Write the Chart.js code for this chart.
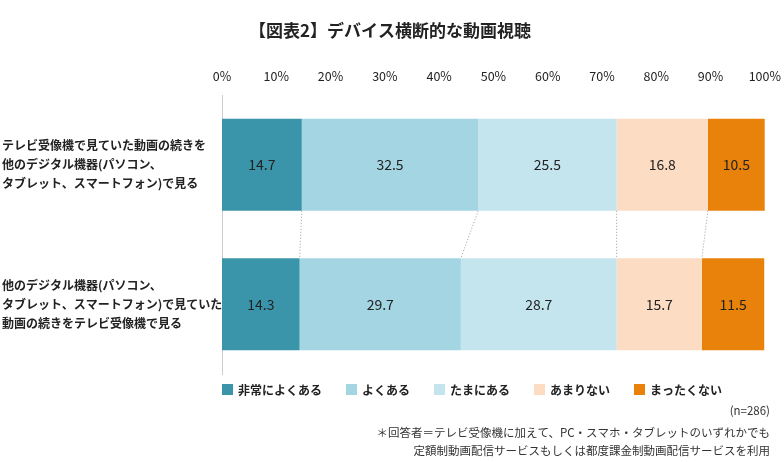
<!DOCTYPE html>
<html><head><meta charset="utf-8">
<script src="https://cdn.jsdelivr.net/npm/chart.js@4/dist/chart.umd.min.js"></script>
<style>body{margin:0;background:#fff}</style></head>
<body><canvas id="c" width="784" height="462"></canvas>
<script>
const categories=[["テレビ受像機で見ていた動画の続きを","他のデジタル機器(パソコン、","タブレット、スマートフォン)で見る"],["他のデジタル機器(パソコン、","タブレット、スマートフォン)で見ていた","動画の続きをテレビ受像機で見る"]];
const seriesNames=["非常によくある","よくある","たまにある","あまりない","まったくない"];
const v1=[14.7,14.3],v2=[32.5,29.7],v3=[25.5,28.7],v4=[16.8,15.7],v5=[10.5,11.5];
const colors=["#3a95ab","#a3d5e3","#c5e5ee","#fcdcc2","#e8820a"];
const F="'Noto Sans CJK JP','Noto Sans',sans-serif";
const vals=[v1,v2,v3,v4,v5];
const extra={id:'extra',afterDatasetsDraw(ch){
 const c=ch.ctx,a=ch.chartArea,x=ch.scales.x,y=ch.scales.y;
 c.save();
 c.strokeStyle='#999';c.setLineDash([1,2]);c.lineWidth=1;
 let cum=[0,0];
 for(let s=0;s<4;s++){cum[0]+=vals[s][0];cum[1]+=vals[s][1];
  const b0=ch.getDatasetMeta(s).data[0],b1=ch.getDatasetMeta(s).data[1];
  c.beginPath();c.moveTo(x.getPixelForValue(cum[0]),b0.y+b0.height/2);c.lineTo(x.getPixelForValue(cum[1]),b1.y-b1.height/2);c.stroke();}
 c.setLineDash([]);
 c.fillStyle='#222';c.font="bold 17px "+F;c.textAlign='center';c.textBaseline='middle';
 c.fillText("【図表2】デバイス横断的な動画視聴",390,31);
 c.font="bold 12px "+F;c.textAlign='left';
 categories.forEach((lines,i)=>{const cy=y.getPixelForValue(i);
  lines.forEach((t,j)=>c.fillText(t,2,cy+(j-1)*19));});
 let lx=222;c.font="bold 12px "+F;
 seriesNames.forEach((n,i)=>{c.fillStyle=colors[i];c.fillRect(lx,384,11,11);c.fillStyle='#222';c.fillText(n,lx+16,390);lx+=16+c.measureText(n).width+24;});
 c.font="11.5px "+F;c.textAlign='right';c.fillStyle='#333';
 c.fillText("(n=286)",770,411);
 c.fillText("＊回答者＝テレビ受像機に加えて、PC・スマホ・タブレットのいずれかでも",770,433);
 c.fillText("定額制動画配信サービスもしくは都度課金制動画配信サービスを利用",770,451);
 c.restore();}};
new Chart(document.getElementById('c'),{type:'bar',
 data:{labels:["a","b"],datasets:seriesNames.map((n,i)=>({label:n,data:vals[i],backgroundColor:colors[i],categoryPercentage:1,barPercentage:0.66}))},
 options:{indexAxis:'y',responsive:false,animation:false,
  layout:{padding:{left:222,right:14,top:66,bottom:88}},
  plugins:{legend:{display:false},tooltip:{enabled:false}},
  scales:{x:{position:'top',stacked:true,min:0,max:100,grid:{display:false},border:{display:false},
    ticks:{stepSize:10,callback:v=>v+'%',color:'#222',font:{family:F,size:12.5}}},
   y:{stacked:true,grid:{display:false},border:{color:'#ccc'},ticks:{display:false},afterFit(s){s.width=0;}}}},
 plugins:[extra,{id:'lbl',afterDatasetsDraw(ch){const c=ch.ctx;c.save();c.font="14px "+F;c.fillStyle='#222';c.textAlign='center';c.textBaseline='middle';
  ch.data.datasets.forEach((d,i)=>ch.getDatasetMeta(i).data.forEach((b,j)=>c.fillText(d.data[j].toFixed(1),(b.x+b.base)/2,b.y)));c.restore();}}]
});
</script></body></html>
